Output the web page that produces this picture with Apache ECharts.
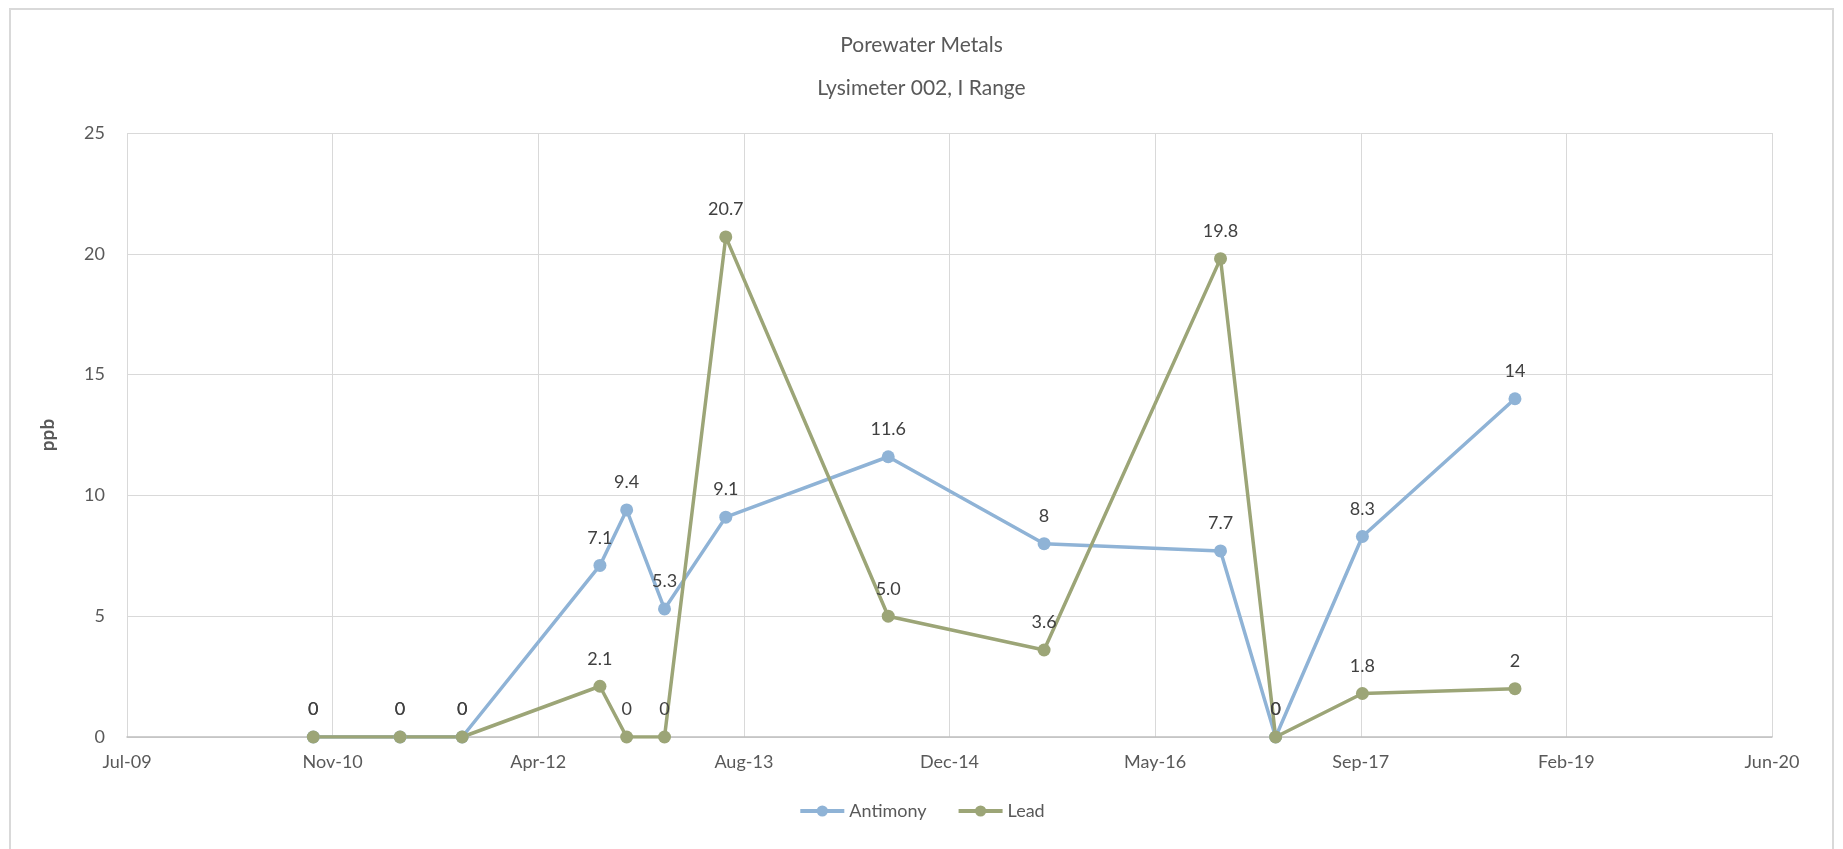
<!DOCTYPE html>
<html>
<head>
<meta charset="utf-8">
<script src="https://cdn.jsdelivr.net/npm/echarts@6/dist/echarts.min.js"></script>
<style>
html,body{margin:0;padding:0;background:#fff;}
#chart{width:1843px;height:849px;}
</style>
</head>
<body>
<div id="chart"></div>
<script>
// Sample dates
const dates = ['2010-10-02','2011-05-01','2011-09-29','2012-08-29','2012-11-02','2013-02-02','2013-07-01','2014-07-31','2015-08-14','2016-10-16','2017-02-27','2017-09-26','2018-10-02'];
const antimony = [0,0,0,7.1,9.4,5.3,9.1,11.6,8,7.7,0,8.3,14];
const lead = [0,0,0,2.1,0,0,20.7,5.0,3.6,19.8,0,1.8,2];
const antimonyLabels = ['0','0','0','7.1','9.4','5.3','9.1','11.6','8','7.7','0','8.3','14'];
const leadLabels = ['0','0','0','2.1','0','0','20.7','5.0','3.6','19.8','0','1.8','2'];
const yTicks = [0,5,10,15,20,25];
const xStart = '2009-07-06';
const xEnd = '2020-06-18';
const xStepDays = 500;

const DAY = 86400000;
const ts = s => Date.parse(s + 'T00:00:00Z');
const months = ['Jan','Feb','Mar','Apr','May','Jun','Jul','Aug','Sep','Oct','Nov','Dec'];
const fmt = v => { const d = new Date(v); return months[d.getUTCMonth()] + '-' + String(d.getUTCFullYear() % 100).padStart(2,'0'); };

const FONT = 'Lato, "Noto Sans", sans-serif';
const chart = echarts.init(document.getElementById('chart'));
const mk = (name, vals, labels, color) => ({
  name, type: 'line',
  data: dates.map((d,i) => [ts(d), vals[i]]),
  symbol: 'circle', symbolSize: 13,
  lineStyle: {color, width: 3.5},
  itemStyle: {color},
  label: {show: true, position: 'top', distance: 12, color: '#404040', fontSize: 18, fontFamily: FONT,
    formatter: p => labels[p.dataIndex]},
  emphasis: {disabled: true},
  animation: false
});

chart.setOption({
  animation: false,
  graphic: [{type:'rect', shape:{x:10, y:9, width:1823, height:860}, style:{fill:'none', stroke:'#d9d9d9', lineWidth:2}}],
  title: [
    {text: 'Porewater Metals', left: 'center', top: 30, textStyle:{fontFamily: FONT, fontSize: 21, fontWeight: 'normal', color: '#595959'}},
    {text: 'Lysimeter 002, I Range', left: 'center', top: 73, textStyle:{fontFamily: FONT, fontSize: 21, fontWeight: 'normal', color: '#595959'}}
  ],
  legend: {bottom: 24, left: 'center', itemWidth: 44, itemHeight: 14, itemGap: 30,
    lineStyle: {width: 4},
    textStyle:{fontFamily: FONT, fontSize: 18, color:'#595959'},
    data: ['Antimony','Lead']},
  grid: {left: 127, right: 71, top: 133, bottom: 112, containLabel: false},
  xAxis: {
    type: 'value', min: ts(xStart), max: ts(xEnd), interval: xStepDays * DAY,
    axisLine: {show: true, lineStyle:{color:'#bfbfbf', width: 1.5}},
    axisTick: {show: false},
    splitLine: {show: true, lineStyle:{color:'#d9d9d9', width: 1}},
    axisLabel: {formatter: fmt, color:'#595959', fontSize: 18, fontFamily: FONT, margin: 16}
  },
  yAxis: {
    type: 'value', min: yTicks[0], max: yTicks[yTicks.length-1], interval: 5,
    name: 'ppb', nameLocation: 'middle', nameGap: 70, nameRotate: 90,
    nameTextStyle: {fontFamily: FONT, fontSize: 19, fontWeight: 'bold', color:'#595959'},
    axisLine: {show: false}, axisTick: {show: false},
    splitLine: {show: true, lineStyle:{color:'#d9d9d9', width: 1}},
    axisLabel: {color:'#595959', fontSize: 18, fontFamily: FONT, margin: 22}
  },
  series: [
    mk('Antimony', antimony, antimonyLabels, '#8fb3d6'),
    mk('Lead', lead, leadLabels, '#9ca577')
  ]
});
</script>
</body>
</html>
